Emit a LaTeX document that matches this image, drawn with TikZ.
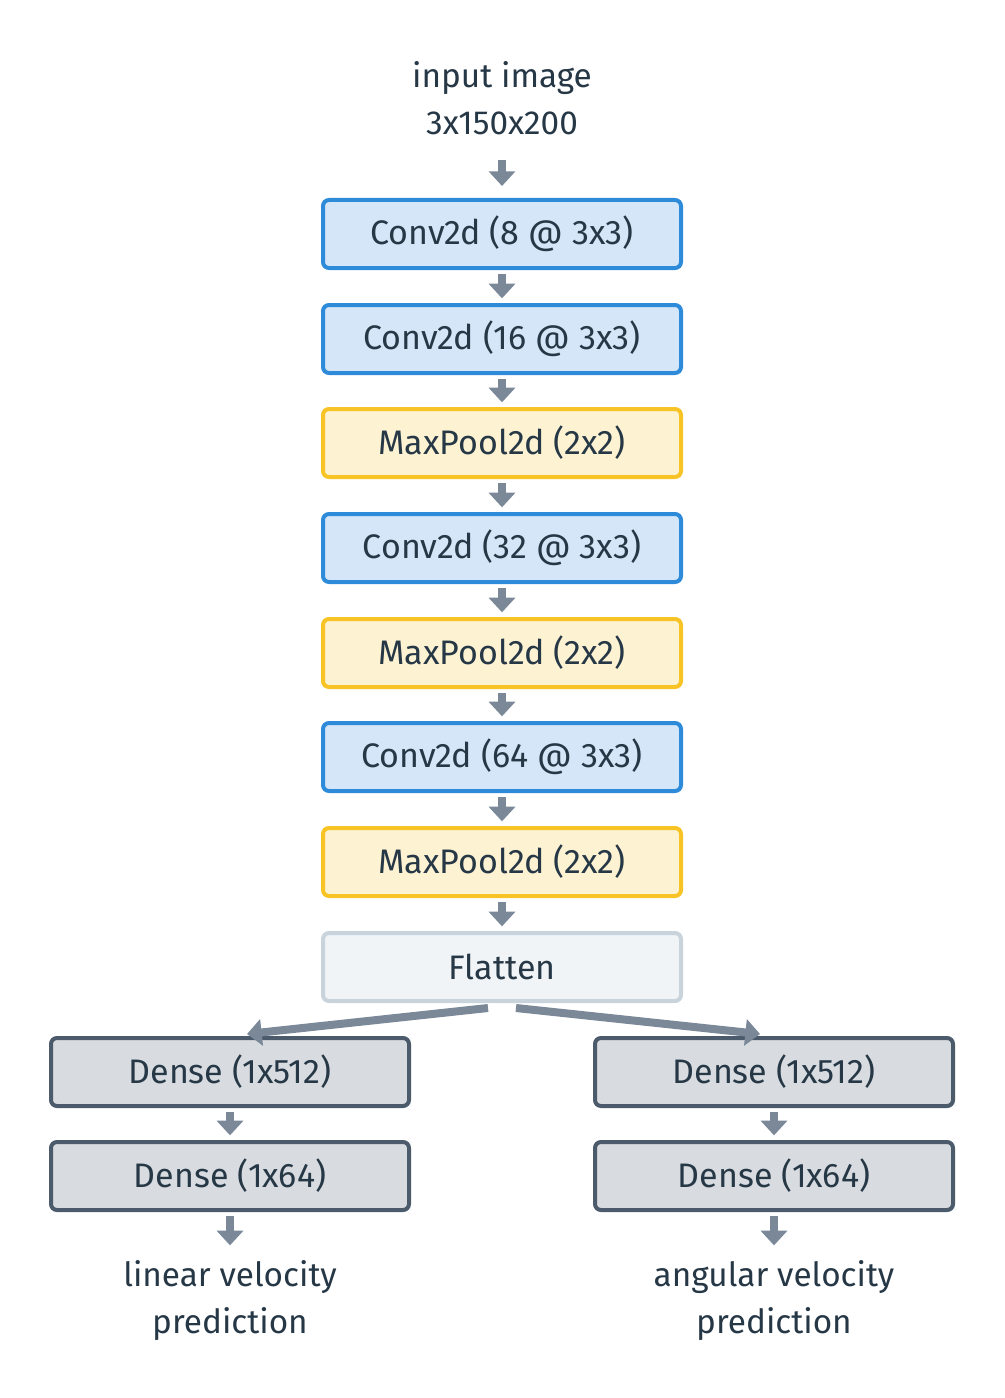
\documentclass[tikz,border=0pt]{standalone}
\usepackage{fontspec}
\setmainfont{Fira Sans}
\usetikzlibrary{arrows.meta,calc}

\definecolor{txtcol}{HTML}{263746}
\definecolor{convline}{HTML}{2E8BDA}
\definecolor{convfill}{HTML}{D4E6F7}
\definecolor{poolline}{HTML}{F7C325}
\definecolor{poolfill}{HTML}{FDF2D2}
\definecolor{flatline}{HTML}{C8D3DC}
\definecolor{flatfill}{HTML}{F0F4F7}
\definecolor{denseline}{HTML}{4B5B6B}
\definecolor{densefill}{HTML}{D8DCE0}
\definecolor{arrcol}{HTML}{7A8898}

\tikzset{every picture/.style={line width=0.75pt}}

\begin{document}
\begin{tikzpicture}[x=0.75pt,y=0.75pt,yscale=-1,
	layer/.style={draw, line width=3pt, rounded corners=4.5pt, minimum width=268.5pt, minimum height=51pt, inner sep=0pt, text=txtcol, font=\fontsize{25.5}{30}\selectfont},
	convbox/.style={layer, draw=convline, fill=convfill},
	poolbox/.style={layer, draw=poolline, fill=poolfill},
	flatbox/.style={layer, draw=flatline, fill=flatfill},
	densebox/.style={layer, draw=denseline, fill=densefill},
	label/.style={align=center, inner sep=0pt, text=txtcol, font=\fontsize{25}{35}\selectfont},
	arr/.style={draw=arrcol, line width=6pt, -{Triangle[width=19.5pt,length=11pt]}, shorten <=3pt, shorten >=3.5pt}]
	\useasboundingbox (0,0) rectangle (1004,1398);
	
	% Input and feature extractor
	\node [label] (inp) at (502,98) {input image\\3x150x200};
	\node [convbox] (conv1) at (502,234) {Conv2d (8 @ 3x3)};
	\node [convbox] (conv2) at (502,339) {Conv2d (16 @ 3x3)};
	\node [poolbox] (pool1) at (502,443) {MaxPool2d (2x2)};
	\node [convbox] (conv3) at (502,548) {Conv2d (32 @ 3x3)};
	\node [poolbox] (pool2) at (502,653) {MaxPool2d (2x2)};
	\node [convbox] (conv4) at (502,757) {Conv2d (64 @ 3x3)};
	\node [poolbox] (pool3) at (502,862) {MaxPool2d (2x2)};
	\node [flatbox] (flat) at (502,967) {Flatten};
	
	% Two heads
	\node [densebox] (linA) at (230,1072) {Dense (1x512)};
	\node [densebox] (linB) at (230,1176) {Dense (1x64)};
	\node [densebox] (angA) at (774,1072) {Dense (1x512)};
	\node [densebox] (angB) at (774,1176) {Dense (1x64)};
	\node [label, anchor=north] (linout) at (230,1260) {linear velocity\\prediction};
	\node [label, anchor=north] (angout) at (774,1260) {angular velocity\\prediction};
	
	% Arrows
	\draw [arr, shorten <=19pt, shorten >=9pt] (inp.south) -- (conv1.north);
	\draw [arr] (conv1) -- (conv2);
	\draw [arr] (conv2) -- (pool1);
	\draw [arr] (pool1) -- (conv3);
	\draw [arr] (conv3) -- (pool2);
	\draw [arr] (pool2) -- (conv4);
	\draw [arr] (conv4) -- (pool3);
	\draw [arr] (pool3) -- (flat);
	\draw [arr, shorten <=0pt, shorten >=0pt] ($(flat.south)+(-14,5)$) -- ($(linA.north)+(17,-2)$);
	\draw [arr, shorten <=0pt, shorten >=0pt] ($(flat.south)+(14,5)$) -- ($(angA.north)+(-14,-2)$);
	\draw [arr] (linA) -- (linB);
	\draw [arr] (angA) -- (angB);
	\draw [arr, shorten >=11pt] (linB.south) -- (linout.north);
	\draw [arr, shorten >=11pt] (angB.south) -- (angout.north);
\end{tikzpicture}
\end{document}
